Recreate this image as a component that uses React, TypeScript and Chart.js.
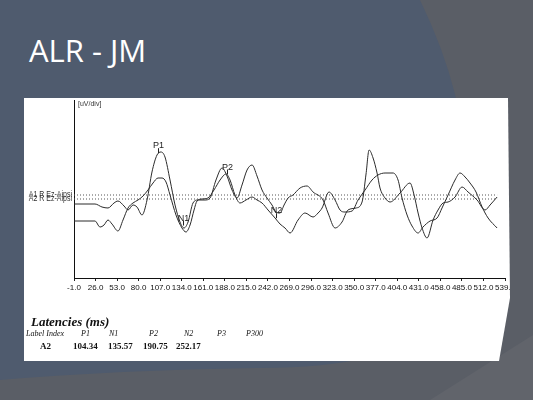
import React, { useEffect, useRef } from 'react';
import { Chart, registerables } from 'chart.js';

Chart.register(...registerables);

const titleText = 'ALR - JM';
const unitLabel = '[uV/div]';

const xTicks = [-1, 26, 53, 80, 107, 134, 161, 188, 215, 242, 269, 296, 323, 350, 377, 404, 431, 458, 485, 512, 539];

const timeA = [-1, 25.3, 34.1, 41.6, 49.1, 54.1, 61.7, 66.7, 72.9, 77.9, 84.2, 90.5, 96.7, 103.0, 108.0, 113.0, 119.3, 125.6, 131.8, 136.8, 141.9, 148.1, 154.4, 163.2, 169.4, 176.9, 184.5, 190.7, 197.0, 203.3, 209.5, 215.8, 222.1, 228.3, 234.6, 240.8, 247.1, 252.1, 257.1, 262.2, 267.2, 273.4, 282.2, 291.0, 298.5, 311.0, 317.3, 326.1, 334.8, 342.3, 352.4, 359.9, 364.9, 368.7, 373.7, 378.7, 382.4, 388.7, 395.0, 407.5, 420.0, 425.1, 430.1, 435.1, 441.3, 448.9, 455.1, 461.4, 467.7, 476.4, 485.2, 492.7, 504.0, 514.0, 520.3, 529.1];
const ampA = [0.8, 0.8, 0.5, 0.4, 0.9, 1.1, 0.6, 0.2, 0.7, 0.5, -0.3, 1.2, 4.0, 5.7, 6.0, 5.5, 3.2, 0.7, -1.0, -1.6, -1.0, 0.9, 1.2, 1.2, 1.4, 3.2, 4.4, 3.6, 2.2, 1.4, 2.7, 4.2, 4.7, 3.6, 2.2, 1.4, 0.7, 0.0, -0.1, 0.7, 1.4, 1.7, 2.4, 2.6, 2.0, 1.2, -0.1, -1.6, -1.0, 0.2, 0.4, 1.0, 3.8, 6.2, 5.4, 3.9, 2.4, 1.4, 1.0, 1.9, 2.9, 1.7, -0.1, -1.6, -2.6, -0.8, 0.2, 0.9, 1.0, 1.5, 2.5, 2.0, 1.2, 0.2, 0.7, 1.5];

const timeB = [-1, 25.3, 31.6, 36.6, 41.6, 46.6, 54.1, 60.4, 66.7, 72.9, 79.2, 85.5, 91.7, 98.0, 104.3, 109.3, 114.3, 119.3, 126.8, 134.3, 139.3, 144.4, 149.4, 153.1, 159.4, 166.9, 174.4, 182.0, 189.5, 194.5, 200.7, 207.0, 214.5, 222.1, 228.3, 234.6, 242.1, 250.9, 257.1, 263.4, 269.7, 279.7, 288.5, 298.5, 304.8, 309.8, 318.5, 326.1, 332.3, 338.6, 347.4, 354.9, 363.7, 372.4, 379.9, 388.7, 398.7, 405.0, 410.0, 416.3, 422.5, 430.1, 436.3, 445.1, 453.9, 460.1, 467.7, 476.4, 482.7, 489.0, 495.2, 502.7, 510.3, 517.8, 529.1];
const ampB = [-0.9, -0.9, -1.5, -1.3, -0.8, -1.2, -1.9, -0.8, 0.4, 0.9, 1.2, 1.6, 2.2, 2.9, 3.4, 3.4, 3.0, 1.7, -0.3, -1.6, -2.0, -1.3, 0.2, 1.1, 1.3, 1.4, 2.2, 3.2, 3.8, 3.2, 1.7, 0.9, 1.2, 1.5, 1.2, 0.9, 0.2, -0.6, -1.2, -1.6, -2.1, -0.8, -0.1, -0.5, -0.1, 0.4, 2.0, 1.2, 0.2, 0.0, 0.1, 1.2, 2.2, 3.2, 3.7, 3.9, 3.9, 3.2, 1.4, -0.3, -1.4, -2.1, -1.5, -0.9, -0.6, 0.4, 1.7, 3.2, 3.9, 3.5, 2.9, 2.0, 0.5, -0.6, -1.6];

const baselineLabels = ['A1 R Ez-Aipsi', 'A2 R Ez-Aipsi'];
const baselineValues = [1.7, 1.3];
const baselineSpan = [-1, 529.1];

const peakLabels = ['P1', 'N1', 'P2', 'N2'];
const peakLatencies = [104.34, 135.57, 190.75, 252.17];
const peakCurve = [0, 0, 1, 1];

const tableTitle = 'Latencies (ms)';
const tableHeaderLabel = 'Label Index';
const tableHeaders = ['P1', 'N1', 'P2', 'N2', 'P3', 'P300'];
const tableRowLabel = 'A2';
const tableRowValues = ['104.34', '135.57', '190.75', '252.17'];

const headerX = [81, 109, 149, 184, 217, 246];
const valueX = [73, 108, 143, 176];

function interp(ts: number[], vs: number[], t: number) {
  for (let i = 0; i < ts.length - 1; i++) {
    if (t >= ts[i] && t <= ts[i + 1]) {
      const f = (t - ts[i]) / (ts[i + 1] - ts[i]);
      return vs[i] + f * (vs[i + 1] - vs[i]);
    }
  }
  return vs[vs.length - 1];
}

const PANEL_L = 24;
const PANEL_T = 98;

export default function App() {
  const ref = useRef<HTMLCanvasElement>(null);

  useEffect(() => {
    document.body.style.margin = '0';
    const canvas = ref.current!;
    const curves = [
      { t: timeA, v: ampA },
      { t: timeB, v: ampB },
    ];
    const overlay = {
      id: 'overlay',
      afterDatasetsDraw(chart: any) {
        const { ctx, chartArea, scales } = chart;
        const xs = scales.x;
        const ys = scales.y;
        ctx.save();
        ctx.fillStyle = '#333';
        ctx.font = '7px "Liberation Sans", Arial';
        ctx.textAlign = 'left';
        ctx.textBaseline = 'top';
        ctx.fillText(unitLabel, chartArea.left + 4, chartArea.top + 1);

        ctx.font = '9px "Liberation Sans", Arial';
        ctx.textAlign = 'right';
        ctx.textBaseline = 'middle';
        ctx.fillStyle = '#333';
        baselineLabels.forEach((lab, i) => {
          const y = ys.getPixelForValue(baselineValues[i]);
          ctx.save();
          ctx.translate(chartArea.left - 2, y);
          ctx.scale(0.78, 1);
          ctx.fillText(lab, 0, 0);
          ctx.restore();
        });

        ctx.strokeStyle = '#222';
        ctx.fillStyle = '#222';
        ctx.lineWidth = 1;
        ctx.textAlign = 'center';
        ctx.textBaseline = 'alphabetic';
        ctx.font = '9px "Liberation Sans", Arial';
        peakLabels.forEach((lab, i) => {
          const c = curves[peakCurve[i]];
          const x = Math.round(xs.getPixelForValue(peakLatencies[i])) + 0.5;
          const y = ys.getPixelForValue(interp(c.t, c.v, peakLatencies[i]));
          ctx.beginPath();
          ctx.moveTo(x, y - 1);
          ctx.lineTo(x, y - 6);
          ctx.stroke();
          ctx.fillText(lab, x, y - 6);
        });
        ctx.restore();
      },
    };

    const lineStyle = {
      borderColor: '#2b2b2b',
      borderWidth: 1,
      pointRadius: 0,
      fill: false,
      cubicInterpolationMode: 'monotone' as const,
    };

    const chart = new Chart(canvas, {
      type: 'line',
      data: {
        datasets: [
          { ...lineStyle, data: timeA.map((t, i) => ({ x: t, y: ampA[i] })) },
          { ...lineStyle, data: timeB.map((t, i) => ({ x: t, y: ampB[i] })) },
          ...baselineValues.map((v) => ({
            data: baselineSpan.map((t) => ({ x: t, y: v })),
            borderColor: '#555',
            borderWidth: 1,
            borderDash: [1, 2],
            pointRadius: 0,
            fill: false,
          })),
        ],
      },
      options: {
        responsive: false,
        animation: false,
        layout: { padding: { left: 0, top: 10, right: 28, bottom: 0 } },
        plugins: { legend: { display: false }, tooltip: { enabled: false } },
        scales: {
          x: {
            type: 'linear',
            min: -1,
            max: 539,
            afterBuildTicks: (s: any) => {
              s.ticks = xTicks.map((v) => ({ value: v }));
            },
            afterFit: (s: any) => {
              s.height = 27;
            },
            ticks: {
              autoSkip: false,
              maxRotation: 0,
              minRotation: 0,
              padding: 2,
              color: '#111',
              font: { family: '"Liberation Sans", Arial', size: 8 },
              callback: (v: any) => Number(v).toFixed(1),
            },
            grid: { drawOnChartArea: false, tickLength: 3, color: '#222' },
            border: { color: '#111', width: 1 },
          },
          y: {
            min: -6.6,
            max: 11.2,
            afterFit: (s: any) => {
              s.width = 74;
            },
            ticks: { display: false },
            grid: { display: false },
            border: { color: '#111', width: 1 },
          },
        },
      },
      plugins: [overlay],
    } as any);
    return () => chart.destroy();
  }, []);

  const serif = '"Liberation Serif", "Times New Roman", serif';
  const txt = (x: number, top: number, content: string, style: any, key?: string) => (
    <div
      key={key}
      style={{
        position: 'absolute',
        left: x - PANEL_L,
        top: top - PANEL_T,
        whiteSpace: 'nowrap',
        color: '#111',
        fontFamily: serif,
        filter: 'grayscale(1)',
        ...style,
      }}
    >
      {content}
    </div>
  );

  return (
    <div
      style={{
        position: 'fixed',
        left: 0,
        top: 0,
        width: 533,
        height: 400,
        overflow: 'hidden',
        background: 'rgb(90,94,102)',
      }}
    >
      <svg width={533} height={400} style={{ position: 'absolute', left: 0, top: 0 }}>
        <path d="M0,0 H420 Q505,175 435,325 Q390,368 260,368 Q120,370 0,380 Z" fill="rgb(79,91,110)" />
        <path d="M430,400 L533,335 L533,400 Z" fill="rgb(97,100,107)" />
      </svg>
      <div
        style={{
          position: 'absolute',
          left: 29,
          top: 35,
          fontFamily: '"Open Sans", sans-serif',
          fontSize: 31,
          lineHeight: '31px',
          color: '#fff',
          whiteSpace: 'nowrap',
        }}
      >
        {titleText}
      </div>
      <div
        style={{
          position: 'absolute',
          left: PANEL_L,
          top: PANEL_T,
          width: 487,
          height: 263,
          background: '#fff',
          clipPath: 'polygon(0 0, 484px 0, 486px 200px, 475px 100%, 0 100%)',
        }}
      >
        <canvas
          ref={ref}
          width={533}
          height={215}
          style={{ position: 'absolute', left: -PANEL_L, top: 90 - PANEL_T, width: 533, height: 215 }}
        />
        {txt(31, 315, tableTitle, { fontSize: 13, lineHeight: '13px', fontWeight: 'bold', fontStyle: 'italic' })}
        {txt(26, 330, tableHeaderLabel, { fontSize: 8, lineHeight: '8px', fontStyle: 'italic' })}
        {tableHeaders.map((h, i) =>
          txt(headerX[i], 330, h, { fontSize: 8, lineHeight: '8px', fontStyle: 'italic' }, 'h' + i)
        )}
        {txt(40, 342, tableRowLabel, { fontSize: 9, lineHeight: '9px', fontWeight: 'bold' })}
        {tableRowValues.map((v, i) =>
          txt(valueX[i], 342, v, { fontSize: 9, lineHeight: '9px', fontWeight: 'bold' }, 'v' + i)
        )}
      </div>
    </div>
  );
}
